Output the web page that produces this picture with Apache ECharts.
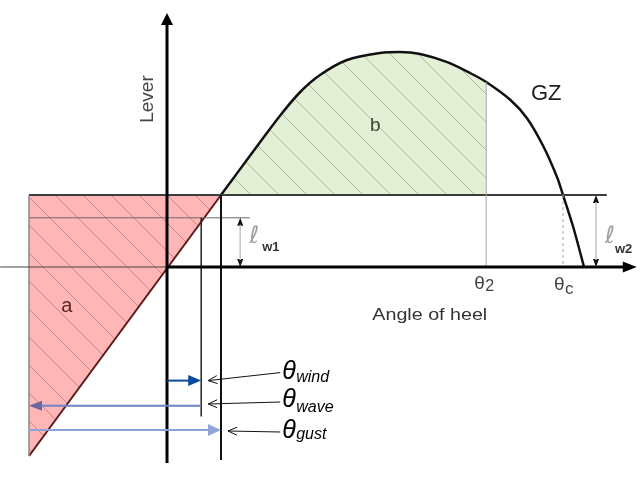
<!DOCTYPE html>
<html><head><meta charset="utf-8">
<script src="https://cdn.jsdelivr.net/npm/echarts@6/dist/echarts.min.js"></script>
<style>html,body{margin:0;padding:0;background:#fff}#c{width:640px;height:490px}</style>
</head><body><div id="c"></div>
<script>
// ---- values (angle of heel in degrees, lever in m) ----
const gzAngle = [9, 13.8, 18.8, 22.2, 25.5, 30, 35.5, 38.8, 42.2, 46.7, 50.5, 53.2, 57.2, 60, 62.7, 65, 66, 67.7, 69.5];
const gzLever = [0.18, 0.2775, 0.3775, 0.4375, 0.48, 0.5175, 0.535, 0.5375, 0.5325, 0.512, 0.485, 0.4625, 0.418, 0.372, 0.3025, 0.225, 0.18, 0.10, 0.0];
const THETA_1 = -23;     // roll-back angle
const THETA_WIND = 5.7;
const THETA_GUST = 9;
const THETA_2 = 53.2;
const THETA_C = 66;
const LW1 = 0.123;
const LW2 = 0.18;
const rollAngle = [THETA_1, THETA_GUST];
const rollLever = [-0.4725, LW2];
// extents of drawn guide lines
const X_AXIS_START = -27.8, X_AXIS_END = 78.3;
const Y_AXIS_BOTTOM = -0.49, Y_AXIS_TOP = 0.635;
const LW2_END = 73.3, LW1_END = 13.8;
const WIND_LINE_BOTTOM = -0.374, GUST_LINE_BOTTOM = -0.4825;
const ROW_WIND = -0.284, ROW_WAVE = -0.347, ROW_GUST = -0.4075;
const LW1_ARROW_AT = 12.2, LW2_ARROW_AT = 71.5;
const LABEL_AT = 19.2;

const gzData = gzAngle.map((a, i) => [a, gzLever[i]]);
const areaB = gzData.filter(d => d[0] <= THETA_2 + 1e-9);
const rollData = rollAngle.map((a, i) => [a, rollLever[i]]);

function hatch(bg, fg, size) {
  const cv = document.createElement('canvas');
  cv.width = cv.height = size;
  const ctx = cv.getContext('2d');
  ctx.fillStyle = bg; ctx.fillRect(0, 0, size, size);
  ctx.strokeStyle = fg; ctx.lineWidth = 1;
  for (const k of [-size, 0, size]) {
    ctx.beginPath(); ctx.moveTo(k - 1, -1); ctx.lineTo(k + size + 1, size + 1); ctx.stroke();
  }
  return cv;
}
const redHatch = hatch('#ffb6b6', '#c98a8a', 28);
const greenHatch = hatch('#e3f0d6', '#a9bd9c', 28);

const chart = echarts.init(document.getElementById('c'));

function renderTriangle(params, api) {
  const pts = [api.coord([THETA_1, LW2]), api.coord([THETA_GUST, LW2]), api.coord(rollData[0])];
  return { type: 'polygon', shape: { points: pts }, style: { fill: { image: redHatch, repeat: 'repeat' } } };
}

function renderAnn(params, api) {
  const P = (a, l) => api.coord([a, l]);
  const kids = [];
  const line = (p, q, stroke, w, dash) => kids.push({ type: 'line', shape: { x1: p[0], y1: p[1], x2: q[0], y2: q[1] }, style: { stroke, lineWidth: w, lineDash: dash || null } });
  const head = (tip, from, len, wid, fill) => {
    const dx = tip[0] - from[0], dy = tip[1] - from[1], d = Math.hypot(dx, dy);
    const ux = dx / d, uy = dy / d;
    const bx = tip[0] - ux * len, by = tip[1] - uy * len;
    kids.push({ type: 'polygon', shape: { points: [tip, [bx - uy * wid / 2, by + ux * wid / 2], [bx + uy * wid / 2, by - ux * wid / 2]] }, style: { fill } });
    return [bx + ux * 1, by + uy * 1];
  };
  const arrow = (p, q, stroke, w, len, wid, hf) => { const b = head(q, p, len, wid, hf || stroke); line(p, b, stroke, w); };
  const dbl = (p, q, stroke, w, len, wid, hf) => { const b1 = head(p, q, len, wid, hf); const b2 = head(q, p, len, wid, hf); line(b1, b2, stroke, w); };
  const openHead = (tip, from, len, spread, stroke) => {
    const dx = tip[0] - from[0], dy = tip[1] - from[1], d = Math.hypot(dx, dy);
    const ux = dx / d, uy = dy / d;
    const bx = tip[0] - ux * len, by = tip[1] - uy * len;
    line([bx - uy * spread, by + ux * spread], tip, stroke, 1);
    line([bx + uy * spread, by - ux * spread], tip, stroke, 1);
  };
  const text = (x, y, str, size, fill, opt) => {
    opt = opt || {};
    kids.push(Object.assign({ type: 'text', x, y, style: { text: str, fontSize: size, fontFamily: opt.family || '"Liberation Sans", Arial, sans-serif', fontStyle: opt.italic ? 'italic' : 'normal', fontWeight: opt.bold ? 'bold' : 'normal', fill, align: opt.align || 'left', verticalAlign: 'middle' } }, opt.el || {}));
  };
  const o = P(0, 0);

  // guide lines
  line(P(THETA_1, LW2), P(LW2_END, LW2), '#3c3c3c', 2);
  line(P(THETA_1, LW1), P(LW1_END, LW1), '#6a6a6a', 1);
  line(P(THETA_1, LW2), P(THETA_1, rollLever[0]), '#8a8a8a', 1.5);
  line(P(THETA_WIND, LW1), P(THETA_WIND, WIND_LINE_BOTTOM), '#222', 1.5);
  line(P(THETA_GUST, LW2), P(THETA_GUST, GUST_LINE_BOTTOM), '#111', 2);
  line(P(THETA_2, gzLever[gzAngle.indexOf(THETA_2)]), P(THETA_2, 0), '#a8a8a8', 1);
  line(P(THETA_C, LW2), P(THETA_C, 0), '#a8a8a8', 1, [3, 3]);

  // axes
  line(P(X_AXIS_START, 0), o, '#444', 1);
  arrow(o, P(X_AXIS_END, 0), '#000', 3, 14, 11);
  arrow(P(0, Y_AXIS_BOTTOM), P(0, Y_AXIS_TOP), '#000', 3, 12, 12);

  // lever double arrows
  dbl(P(LW1_ARROW_AT, LW1), P(LW1_ARROW_AT, 0), '#c4c4c4', 1.5, 8, 6, '#111');
  dbl(P(LW2_ARROW_AT, LW2), P(LW2_ARROW_AT, 0), '#c4c4c4', 1.5, 8, 6, '#111');

  // angle arrows
  arrow(P(0, ROW_WIND), P(THETA_WIND, ROW_WIND), '#0d4a9c', 2, 13, 11);
  arrow(P(THETA_WIND, ROW_WAVE), P(THETA_1, ROW_WAVE), '#6f84c2', 2, 13, 10, '#6c64a0');
  arrow(P(THETA_1, ROW_GUST), P(THETA_GUST, ROW_GUST), '#8ea2d6', 2, 13, 12, '#93a6da');

  // labels with leaders
  const lx = P(LABEL_AT, 0)[0];
  const rows = [
    { at: THETA_WIND, lev: ROW_WIND, sub: 'wind', lead: -8, tip: 0, th: -9, sb: -3.2 },
    { at: THETA_WIND, lev: ROW_WAVE, sub: 'wave', lead: -3.8, tip: -1.8, th: -5.3, sb: 1.6 },
    { at: THETA_GUST, lev: ROW_GUST, sub: 'gust', lead: 2, tip: 1, th: 1, sb: 4.4 }
  ];
  rows.forEach(r => {
    const p = P(r.at, r.lev);
    const tip = [p[0] + 7, p[1] + r.tip];
    const st = [lx - 2, p[1] + r.lead];
    line(st, tip, '#111', 1);
    openHead(tip, st, 9, 4, '#111');
    text(lx, p[1] + r.th, 'θ', 25, '#000', { italic: true });
    text(lx + 14, p[1] + r.sb, r.sub, 16, '#000', { italic: true });
  });

  // axis angle labels
  const p2 = P(THETA_2, 0), pc = P(THETA_C, 0);
  text(p2[0] - 12, p2[1] + 17, 'θ', 19, '#444');
  text(p2[0] - 1, p2[1] + 20, '2', 16, '#444');
  text(pc[0] - 9, pc[1] + 18, 'θ', 19, '#444');
  text(pc[0] + 2, pc[1] + 22, 'c', 17, '#444');

  // lever labels
  const q1 = P(LW1_ARROW_AT, 0), q2 = P(LW2_ARROW_AT, 0);
  text(q1[0] + 9, q1[1] - 30, 'ℓ', 24, '#a0a0a0', { family: '"DejaVu Sans", sans-serif' });
  text(q1[0] + 22, q1[1] - 19.5, 'w1', 13, '#333', { bold: true });
  text(q2[0] + 9, q2[1] - 30, 'ℓ', 24, '#a0a0a0', { family: '"DejaVu Sans", sans-serif' });
  text(q2[0] + 19, q2[1] - 18, 'w2', 13, '#333', { bold: true });

  // other texts
  const pl = P(-3.17, 0.42);
  text(pl[0], pl[1], 'Lever', 19, '#444', { align: 'center', el: { rotation: Math.PI / 2 } });
  const pa = P(43.8, -0.1225);
  text(pa[0], pa[1], 'Angle of heel', 16, '#333', { align: 'center', el: { scaleX: 1.23 } });
  const pg = P(63.2, 0.4325);
  text(pg[0], pg[1], 'GZ', 22, '#222', { align: 'center' });
  const paa = P(-16.7, -0.0975);
  text(paa[0], paa[1], 'a', 20, '#5a2a2a', { align: 'center' });
  const pb = P(34.7, 0.3525);
  text(pb[0], pb[1], 'b', 19, '#3a463a', { align: 'center' });

  return { type: 'group', children: kids };
}

chart.setOption({
  backgroundColor: '#fff',
  animation: false,
  grid: { left: 2, right: 2, top: 7, bottom: 3 },
  xAxis: { type: 'value', min: -27.5, max: 78.5, show: false },
  yAxis: { type: 'value', min: -0.55, max: 0.65, show: false },
  series: [
    { type: 'line', data: areaB, smooth: 0.3, symbol: 'none', lineStyle: { width: 0 }, areaStyle: { origin: LW2, color: { image: greenHatch, repeat: 'repeat' }, opacity: 1 }, z: 1, silent: true },
    { type: 'custom', data: [0], renderItem: renderTriangle, z: 1, silent: true },
    { type: 'line', data: gzData, smooth: 0.3, symbol: 'none', lineStyle: { color: '#111', width: 2.5 }, z: 3, silent: true },
    { type: 'line', data: rollData, symbol: 'none', lineStyle: { color: '#5b1a1a', width: 2 }, z: 3, silent: true },
    { type: 'custom', data: [0], renderItem: renderAnn, z: 4, silent: true }
  ]
});
</script></body></html>
